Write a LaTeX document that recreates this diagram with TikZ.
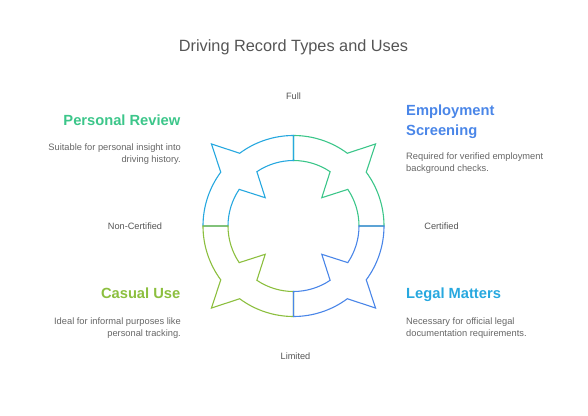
\documentclass[tikz,border=0pt]{standalone}
\usepackage{fontspec}
\setmainfont{Liberation Sans}
\usetikzlibrary{positioning}

\definecolor{ringgreen}{HTML}{3CC68A}
\definecolor{ringcyan}{HTML}{27A8DF}
\definecolor{ringblue}{HTML}{4A86E8}
\definecolor{ringlime}{HTML}{8CBF3F}
\definecolor{textgray}{HTML}{555555}
\definecolor{descgray}{HTML}{666666}

% one quarter of the ring: colour, start angle
\newcommand{\ringpart}[2]{%
  \draw[ringline, draw=#1]
    (#2:90.5) arc[start angle=#2, end angle={#2+36.5}, radius=90.5]
    -- ({#2+45}:116)
    -- ({#2+53.5}:90.5) arc[start angle={#2+53.5}, end angle={#2+90}, radius=90.5]
    -- ({#2+90}:65.5) arc[start angle={#2+90}, end angle={#2+56}, radius=65.5]
    -- ({#2+45}:40)
    -- ({#2+34}:65.5) arc[start angle={#2+34}, end angle=#2, radius=65.5]
    -- cycle;}

\begin{document}
\begin{tikzpicture}[
    x=1pt, y=1pt,
    ringline/.style={line width=1.1pt, line join=miter},
    title/.style={text=textgray, font=\fontsize{16.3}{18}\selectfont},
    axis/.style={text=textgray, font=\fontsize{9.2}{11}\selectfont},
    head/.style={font=\fontsize{14.7}{18}\selectfont\bfseries, inner sep=0pt},
    desc/.style={text=descgray, font=\fontsize{9.3}{12}\selectfont, inner sep=0pt}
]
\useasboundingbox (-293.5,-189) rectangle (294.5,226);

\node[title] (title) at (0,179) {Driving Record Types and Uses};

% ring
\ringpart{ringgreen}{0}
\ringpart{ringcyan}{90}
\ringpart{ringlime}{180}
\ringpart{ringblue}{270}

% axis labels
\node[axis] (full) at (0,129.5) {Full};
\node[axis] (limited) at (2,-130) {Limited};
\node[axis] (certified) at (148,0) {Certified};
\node[axis] (noncert) at (-158.5,0) {Non-Certified};

% left side
\node[head, text=ringgreen, anchor=east] (personal) at (-113,106) {Personal Review};
\node[desc, align=right, anchor=east] (personal_desc) at (-112.5,72) {Suitable for personal insight into\\driving history.};
\node[head, text=ringlime, anchor=east] (casual) at (-113,-67) {Casual Use};
\node[desc, align=right, anchor=east] (casual_desc) at (-112.5,-102) {Ideal for informal purposes like\\personal tracking.};

% right side
\node[head, text=ringblue, anchor=west, align=left] (employ) at (112.5,104.5) {Employment\\[2pt]Screening};
\node[desc, align=left, anchor=west] (employ_desc) at (112.5,63) {Required for verified employment\\background checks.};
\node[head, text=ringcyan, anchor=west] (legal) at (112.5,-68.5) {Legal Matters};
\node[desc, align=left, anchor=west] (legal_desc) at (112.5,-102) {Necessary for official legal\\documentation requirements.};

\end{tikzpicture}
\end{document}
